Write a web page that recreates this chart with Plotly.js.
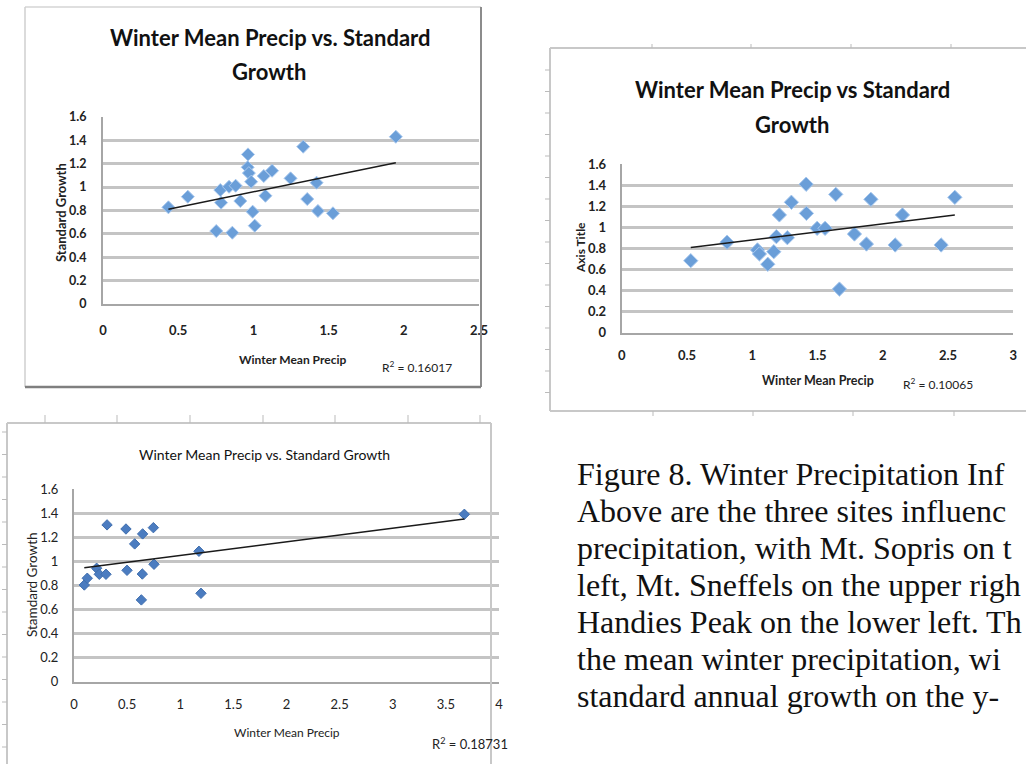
<!DOCTYPE html>
<html><head><meta charset="utf-8">
<script src="https://cdn.plot.ly/plotly-3.0.1.min.js"></script>
<style>html,body{margin:0;padding:0;background:#fff;overflow:hidden}#c{width:1026px;height:764px}</style>
</head><body><div id="c"></div><script>
// ---- Data ----
const soprisPrecip = [0.435,0.564,0.753,0.78,0.785,0.838,0.86,0.882,0.913,0.964,0.962,0.97,0.985,0.995,1.009,1.069,1.08,1.124,1.247,1.331,1.358,1.42,1.429,1.529,1.947];
const soprisGrowth = [0.827,0.918,0.624,0.975,0.867,1.003,0.61,1.012,0.881,1.28,1.17,1.12,1.046,0.79,0.67,1.095,0.926,1.14,1.075,1.346,0.898,1.038,0.796,0.776,1.431];

const sneffelsPrecip = [0.529,0.807,1.04,1.055,1.119,1.165,1.185,1.208,1.269,1.3,1.413,1.415,1.497,1.558,1.64,1.668,1.783,1.875,1.909,2.095,2.151,2.447,2.552];
const sneffelsGrowth = [0.683,0.858,0.785,0.747,0.649,0.768,0.911,1.117,0.901,1.237,1.408,1.132,0.99,0.99,1.312,0.414,0.936,0.841,1.265,0.832,1.117,0.832,1.284];

const handiesPrecip = [0.097,0.125,0.213,0.238,0.301,0.311,0.489,0.499,0.571,0.634,0.643,0.646,0.747,0.753,1.176,1.195,3.674];
const handiesGrowth = [0.803,0.859,0.942,0.892,0.892,1.302,1.268,0.925,1.144,0.679,0.894,1.227,1.279,0.975,1.083,0.734,1.39];

const title1Lines = ["Winter Mean Precip vs. Standard", "Growth"];
const title2Lines = ["Winter Mean Precip vs Standard", "Growth"];
const title3 = "Winter Mean Precip vs. Standard Growth";
const xTitles = ["Winter Mean Precip", "Winter Mean Precip", "Winter Mean Precip"];
const yTitles = ["Standard Growth", "Axis Title", "Stamdard Growth"];
const rSquaredLabels = ["R<sup>2</sup> = 0.16017", "R<sup>2</sup> = 0.10065", "R<sup>2</sup> = 0.18731"];
// caption as visible in the reference (it runs off the right edge there)
const captionLines = [
  "Figure 8. Winter Precipitation Inf",
  "Above are the three sites influenc",
  "precipitation, with Mt. Sopris on t",
  "left, Mt. Sneffels on the upper righ",
  "Handies Peak on the lower left. Th",
  "the mean winter precipitation, wi",
  "standard annual growth on the y-"
];

// ---- helpers ----
const W = 1026, H = 764;
const fx = p => p / W;
const fy = p => 1 - p / H;
const SANS = "Lato, 'Open Sans', sans-serif";
const SERIF = "'Liberation Serif', serif";

function fit(xs, ys) {
  const n = xs.length;
  const mx = xs.reduce((a,b)=>a+b,0)/n, my = ys.reduce((a,b)=>a+b,0)/n;
  let sxy=0, sxx=0;
  for (let i=0;i<n;i++){ sxy += (xs[i]-mx)*(ys[i]-my); sxx += (xs[i]-mx)**2; }
  const b = sxy/sxx, a = my - b*mx;
  const x0 = Math.min(...xs), x1 = Math.max(...xs);
  return {x:[x0,x1], y:[a+b*x0, a+b*x1]};
}

function scatter(xs, ys, xa, ya, size, fill, edge) {
  return {x: xs, y: ys, xaxis: xa, yaxis: ya, type: 'scatter', mode: 'markers',
    marker: {symbol: 'diamond', size: size, color: fill, line: {color: edge, width: 1}},
    hoverinfo: 'skip', showlegend: false};
}
function trend(xs, ys, xa, ya) {
  const f = fit(xs, ys);
  return {x: f.x, y: f.y, xaxis: xa, yaxis: ya, type: 'scatter', mode: 'lines',
    line: {color: '#1a1a1a', width: 1.5}, hoverinfo: 'skip', showlegend: false};
}

const data = [
  scatter(soprisPrecip, soprisGrowth, 'x', 'y', 10, '#6a9ed8', '#a8c8ee'),
  trend(soprisPrecip, soprisGrowth, 'x', 'y'),
  scatter(sneffelsPrecip, sneffelsGrowth, 'x2', 'y2', 11, '#6a9ed8', '#a8c8ee'),
  trend(sneffelsPrecip, sneffelsGrowth, 'x2', 'y2'),
  scatter(handiesPrecip, handiesGrowth, 'x3', 'y3', 8, '#4b7cc0', '#3f6eae'),
  trend(handiesPrecip, handiesGrowth, 'x3', 'y3')
];

function xax(px0, px1, range, anchor, size, bold, standoff) {
  return {domain: [fx(px0), fx(px1)], range: range, dtick: 0.5, tick0: 0, anchor: anchor,
    showgrid: false, zeroline: false, showline: true, linecolor: '#a6a6a6', linewidth: 2,
    ticks: '', ticklabelstandoff: standoff, fixedrange: true,
    tickfont: {family: SANS, size: size, color: '#222', weight: bold ? 'bold' : 'normal'}};
}
function yax(py0, py1, anchor, size, bold, standoff) {
  return {domain: [fy(py1), fy(py0)], range: [0, 1.6], dtick: 0.2, tick0: 0, anchor: anchor,
    showgrid: true, gridcolor: '#c4c4c4', gridwidth: 3, zeroline: false,
    showline: true, linecolor: '#a6a6a6', linewidth: 2,
    ticks: '', ticklabelstandoff: standoff, fixedrange: true,
    tickfont: {family: SANS, size: size, color: '#222', weight: bold ? 'bold' : 'normal'}};
}

const layout = {
  width: W, height: H, margin: {l:0, r:0, t:0, b:0},
  paper_bgcolor: '#ffffff', plot_bgcolor: 'rgba(0,0,0,0)', showlegend: false,
  xaxis: xax(103, 479, [0, 2.5], 'y', 13, true, 13),
  yaxis: yax(117, 304, 'x', 12.5, true, 12),
  xaxis2: xax(621.7, 1013.3, [0, 3], 'y2', 13, true, 10),
  yaxis2: yax(164, 332.7, 'x2', 13, true, 11),
  xaxis3: xax(74, 499, [0, 4], 'y3', 13, false, 10),
  yaxis3: yax(489, 681.7, 'x3', 13, false, 11),
  annotations: [],
  shapes: []
};

const A = layout.annotations;
function ann(text, x, y, opts) {
  A.push(Object.assign({text: text, xref: 'paper', yref: 'paper', x: fx(x), y: fy(y),
    xanchor: 'center', yanchor: 'middle', showarrow: false,
    font: {family: SANS, size: 13, color: '#1a1a1a'}}, opts || {}));
}
const titleFont = {family: SANS, size: 22, color: '#111', weight: 'bold'};
// chart titles
ann(title1Lines[0], 270, 37, {font: titleFont});
ann(title1Lines[1], 269, 72, {font: titleFont});
ann(title2Lines[0], 792, 89, {font: titleFont});
ann(title2Lines[1], 792, 124, {font: titleFont});
ann(title3, 264, 454, {font: {family: SANS, size: 14, color: '#111'}});
// axis titles
ann(yTitles[0], 61, 213, {textangle: -90, font: {family: SANS, size: 13, color: '#222', weight: 'bold'}});
ann(yTitles[1], 580, 248, {textangle: -90, font: {family: SANS, size: 12, color: '#222', weight: 'bold'}});
ann(yTitles[2], 32, 585, {textangle: -90, font: {family: SANS, size: 13.5, color: '#222'}});
ann(xTitles[0], 292, 359, {font: {family: SANS, size: 12, color: '#222', weight: 'bold'}});
ann(xTitles[1], 818, 380, {font: {family: SANS, size: 12.5, color: '#222', weight: 'bold'}});
ann(xTitles[2], 287, 732, {font: {family: SANS, size: 12, color: '#222'}});
// R^2 labels
ann(rSquaredLabels[0], 380, 367, {xanchor: 'left', font: {family: SANS, size: 12, color: '#222'}});
ann(rSquaredLabels[1], 901, 384, {xanchor: 'left', font: {family: SANS, size: 12, color: '#222'}});
ann(rSquaredLabels[2], 430, 743, {xanchor: 'left', font: {family: SANS, size: 13, color: '#222'}});
// caption
const baselines = [485, 522, 559, 596, 633, 670, 707];
captionLines.forEach((t, i) => {
  ann(t, 575, baselines[i] - 11, {xanchor: 'left', font: {family: SERIF, size: 32, color: '#111'}});
});

// frames and ruler ticks (decoration)
const S = layout.shapes;
function ln(x0, y0, x1, y1, color, width) {
  S.push({type: 'line', xref: 'paper', yref: 'paper', x0: fx(x0), y0: fy(y0), x1: fx(x1), y1: fy(y1),
    line: {color: color, width: width}});
}
// chart 1 frame
ln(25, 7, 481, 7, '#d4d4d4', 1.5);
ln(25, 7, 25, 387, '#cfcfcf', 1.5);
ln(481, 7, 481, 387, '#8c8c8c', 2);
ln(25, 387, 481, 387, '#7f7f7f', 2.5);
// chart 2 frame
ln(550, 48, 1026, 48, '#c8c8c8', 2);
ln(550, 48, 550, 411, '#c8c8c8', 2);
ln(550, 411, 1026, 411, '#c8c8c8', 2);
[652, 751, 851, 951].forEach(x => ln(x, 44, x, 48, '#bbbbbb', 1));
[653, 753, 853, 954].forEach(x => ln(x, 411, x, 416, '#bbbbbb', 1));
for (let y = 70; y < 405; y += 21.5) ln(545, y, 550, y, '#bbbbbb', 1);
// chart 3 frame
ln(7, 423, 491, 423, '#c8c8c8', 2);
ln(7, 423, 7, 770, '#c8c8c8', 2);
ln(491, 423, 491, 770, '#c8c8c8', 2);
[45, 117, 190, 263, 335, 408, 480].forEach(x => ln(x, 415, x, 423, '#bbbbbb', 1));
for (let y = 432; y < 764; y += 22.5) ln(2, y, 7, y, '#bbbbbb', 1);

Plotly.newPlot('c', data, layout, {staticPlot: true, displayModeBar: false});
</script></body></html>
